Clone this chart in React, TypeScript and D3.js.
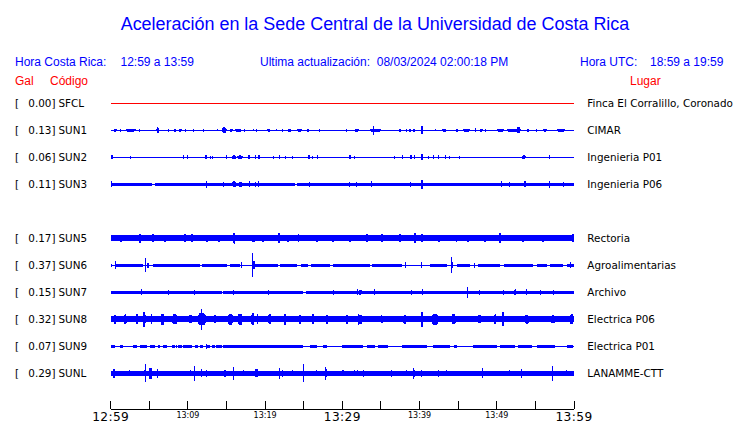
import React from "react";
import * as d3 from "d3";

// ---- data ----
const slots = ["SFCL", "SUN1", "SUN2", "SUN3", "SUN4", "SUN5", "SUN6", "SUN7", "SUN8", "SUN9", "SUNL"];
const stations = ["SFCL", "SUN1", "SUN2", "SUN3", "SUN5", "SUN6", "SUN7", "SUN8", "SUN9", "SUNL"];
const galValues = [0.0, 0.13, 0.06, 0.11, 0.17, 0.37, 0.15, 0.32, 0.07, 0.29];
const places = [
  "Finca El Corralillo, Coronado",
  "CIMAR",
  "Ingenieria P01",
  "Ingenieria P06",
  "Rectoria",
  "Agroalimentarias",
  "Archivo",
  "Electrica P06",
  "Electrica P01",
  "LANAMME-CTT",
];
const traceColors = ["#ff0000", "#0000ff", "#0000ff", "#0000ff", "#0000ff", "#0000ff", "#0000ff", "#0000ff", "#0000ff", "#0000ff"];

// minutes after 12:59
const startClock = 12 * 60 + 59;
const tickMinutes = [0, 5, 10, 15, 20, 25, 30, 35, 40, 45, 50, 55, 60];
const labelMinutes = [0, 10, 20, 30, 40, 50, 60];
const bigLabelMinutes = [0, 30, 60];

// base half-amplitude of each trace (always present)
const baseAmp = [0.5, 0.75, 0.7, 0.75, 0.75, 0.7, 0.75, 0.75, 0.7, 0.75];

// sustained noise bands: [startMin, endMin, halfAmp]
const bandsSFCL: number[][] = [];
const bandsSUN1: number[][] = [];
const bandsSUN2: number[][] = [];
const bandsSUN3 = [[0, 5.3, 1.8], [5.7, 23.9, 1.8], [24.1, 60, 1.8]];
const bandsSUN5 = [[0, 60, 3.1]];
const bandsSUN6 = [
  [0, 0.2, 1.5], [0.55, 4.2, 1.5], [5.5, 11.6, 1.5], [11.8, 15, 1.5], [15.45, 16.75, 1.5],
  [18.7, 21.7, 1.5], [21.9, 24.1, 1.5], [24.7, 25.6, 1.5], [26, 28.4, 1.5], [28.8, 33.6, 1.5],
  [33.8, 37.7, 1.5], [41.4, 43.5, 1.5], [44.8, 46.5, 1.5], [47.6, 50.4, 1.5], [50.9, 54.7, 1.5],
  [55.2, 56.5, 1.5], [56.9, 58.6, 1.5], [59.1, 60, 1.5],
];
const bandsSUN7 = [[0, 14.4, 1.8], [14.6, 24.95, 1.8], [25.3, 60, 1.8]];
const bandsSUN8 = [[0, 60, 3.0]];
const bandsSUN9 = [
  [0, 0.55, 1.5], [1.2, 1.6, 1.5], [2.9, 3.4, 1.5], [3.8, 4.7, 1.5], [5.1, 5.7, 1.5], [6.1, 6.4, 1.5],
  [6.8, 7.25, 1.5], [7.9, 8.3, 1.5], [8.75, 9.2, 1.5], [9.4, 10.5, 1.5], [10.9, 11.35, 1.5],
  [11.55, 12, 1.5], [12.4, 12.85, 1.5], [13.1, 13.5, 1.5], [13.7, 14.4, 1.5], [14.6, 24.95, 1.5],
  [25.8, 26.7, 1.5], [27.5, 28, 1.5], [29.9, 30.8, 1.5], [30.9, 32.7, 1.5], [33.2, 34.2, 1.5],
  [34.6, 35.9, 1.5], [37.7, 40.9, 1.5], [41.8, 44, 1.5], [44.4, 44.8, 1.5], [46.9, 50, 1.5],
  [50.4, 52.4, 1.5], [52.75, 54.5, 1.5], [55.2, 57.6, 1.5], [59.1, 59.9, 1.5],
];
const bandsSUNL = [[0, 60, 2.2]];

// bursts: [timeMin, halfAmp, durationMin]
const burstsSFCL: number[][] = [];
const burstsSUN1 = [
  [0.6, 1.5, 0.4], [1.3, 1.5, 0.1], [2.6, 1.8, 1.3], [3.7, 1.5, 0.1], [6.1, 3, 0.35], [7.55, 1.5, 0.1],
  [8.3, 1.8, 0.3], [9.0, 1.8, 0.4], [9.7, 1.5, 0.2], [10.7, 1.5, 0.1], [12, 1.5, 0.1], [13.8, 1, 0.1],
  [14.7, 3, 0.65], [15.6, 1.8, 0.4], [16.5, 1.8, 0.9], [17.35, 1.5, 0.1], [18.5, 1, 0.1], [18.9, 1.5, 0.1],
  [20.5, 1.8, 0.4], [21.5, 1, 0.1], [22.3, 1.5, 0.1], [23.15, 1.8, 0.5], [24.45, 1.5, 0.7], [25.55, 1.5, 0.3],
  [27.1, 1.5, 0.1], [30.6, 1.5, 0.1], [31.85, 1.8, 0.5], [34.3, 1.8, 1.5], [34.0, 4.5, 0.15], [37.45, 1.8, 0.3],
  [38.3, 1.5, 0.2], [38.8, 1.8, 0.3], [39.3, 1.5, 0.2], [40.3, 4, 0.3], [42.1, 1, 0.1], [43.2, 1.5, 0.6],
  [44.85, 1.8, 0.3], [46.05, 1.8, 0.9], [47.3, 2, 0.1], [48, 1.8, 0.35], [48.5, 1.5, 0.1], [50.45, 1.8, 0.9],
  [52.2, 1.8, 1.9], [52.8, 3, 0.3], [54.05, 1.8, 0.35], [55.2, 1.5, 0.1], [56.25, 1.8, 0.5], [58.3, 1.8, 1.0],
];
const burstsSUN2 = [
  [0.15, 2, 0.25], [2.6, 1.5, 0.1], [9.4, 2, 0.1], [9.9, 2, 0.1], [12.3, 2, 0.25], [12.95, 1.5, 0.1],
  [13.2, 1.5, 0.1], [15, 2, 0.1], [15.95, 2, 0.6], [16.75, 2, 0.7], [17.9, 2, 0.25], [18.7, 2, 0.1],
  [19.2, 2, 0.2], [21.1, 1.5, 0.1], [21.9, 2, 0.1], [22.6, 1.5, 0.1], [23.6, 1.5, 0.1], [25.7, 2, 0.2],
  [26.1, 1.5, 0.1], [26.8, 2, 0.1], [31.0, 2, 0.2], [31.6, 1.5, 0.1], [36.8, 1.5, 0.1], [37.8, 2, 0.2],
  [38.85, 2, 0.3], [39.4, 2, 0.1], [40.3, 3, 0.3], [41.1, 1.5, 0.1], [41.8, 2, 0.1], [42.4, 2, 0.1],
  [43.3, 2, 0.1], [43.9, 1.5, 0.1], [45.2, 1.5, 0.1], [53.5, 2, 0.5], [56.8, 2, 0.2],
];
const burstsSUN3 = [
  [0.1, 3, 0.1], [12.35, 3.5, 0.1], [14.6, 2.5, 0.1], [16, 3, 0.7], [16.8, 2.5, 0.6], [18, 3, 0.1],
  [18.7, 2.5, 0.1], [19.1, 3, 0.1], [25.7, 2.5, 0.1], [30.9, 2.5, 0.1], [31.8, 2.5, 0.1], [33.8, 3, 0.1],
  [38.8, 2.5, 0.1], [40.3, 4.8, 0.2], [50.6, 3, 0.1], [51.6, 2.5, 0.1], [53.65, 3, 0.4], [56.8, 3.5, 0.2],
  [58.6, 2.5, 0.1],
];
const burstsSUN5 = [
  [1.3, 3.5, 0.2], [3.8, 4.5, 0.6], [5.5, 4, 0.2], [7, 3.5, 0.2], [9.6, 4, 0.2], [10.5, 4, 0.2],
  [12.5, 3.5, 0.3], [14, 3.8, 0.4], [16, 5.7, 0.4], [18.5, 3.5, 0.3], [19.7, 3.5, 0.2], [21.8, 5, 0.3],
  [23, 3.5, 0.3], [24.3, 4, 0.2], [26.7, 3.5, 0.3], [28.8, 3.5, 0.3], [31, 3.5, 0.3], [33.2, 4, 0.3],
  [35.1, 4, 0.3], [37.5, 4, 0.3], [39.4, 5, 0.3], [40.3, 4, 0.2], [42.5, 3.5, 0.3], [44.8, 3.5, 0.2],
  [46.3, 3.5, 0.2], [48.5, 3.5, 0.3], [50.4, 5, 0.3], [53.4, 3.5, 0.3], [56, 3.5, 0.3], [59.9, 4, 0.2],
];
const burstsSUN6 = [
  [0.6, 4, 0.1], [4.55, 7, 0.1], [4.8, 2.5, 0.3], [17, 3, 0.1], [18.35, 12, 0.1], [18.5, 4, 0.3],
  [38.2, 3, 0.2], [40.3, 3, 0.1], [44.1, 8, 0.1], [44.2, 3, 0.3], [47.1, 2.5, 0.1], [59.5, 3, 0.1],
];
const burstsSUN7 = [
  [4, 3, 0.1], [7.5, 2.5, 0.1], [10.8, 2.5, 0.1], [15.9, 2.5, 0.1], [20.4, 2.5, 0.1], [28.8, 2.5, 0.1],
  [31.9, 3, 0.1], [32.3, 2.5, 0.6], [34.2, 3, 0.1], [39, 2.5, 0.1], [40.4, 3, 0.2], [46.2, 5.5, 0.1],
  [47.8, 2.5, 0.1], [50.9, 2.5, 0.1], [52.4, 3, 0.4], [53.9, 3, 0.1], [55.6, 2.5, 0.1], [57.3, 2.5, 0.1],
];
const burstsSUN8 = [
  [0.55, 4.5, 0.2], [1.9, 5, 0.5], [3.4, 5, 0.5], [4.3, 7.5, 0.2], [4.4, 5, 0.4], [5.3, 5, 0.2],
  [6.7, 5.5, 0.3], [8.3, 5, 1.0], [10.3, 4, 0.8], [11.8, 10.5, 0.15], [11.8, 6, 1.5], [13.5, 4, 0.2],
  [15.5, 5.5, 0.9], [16.75, 5.5, 0.9], [18.4, 6, 0.6], [19, 5, 0.2], [20.6, 5, 0.6], [22.6, 5.5, 0.2],
  [24.5, 4.5, 0.2], [26.2, 5, 0.4], [28, 4.5, 0.2], [30.6, 4.5, 0.2], [32.1, 5.5, 0.2], [32.3, 4.5, 1.0],
  [35.1, 4, 0.4], [38.1, 4.5, 0.6], [40.3, 7.7, 0.4], [42, 5.5, 1.2], [44.4, 5, 0.8], [47.8, 4, 0.8],
  [49.8, 5, 0.4], [50.8, 7, 0.2], [53.9, 4.5, 0.8], [57.3, 4, 0.8], [59.7, 5, 0.6],
];
const burstsSUN9 = [[12.35, 2.5, 0.1], [8.5, 1.8, 0.1]];
const burstsSUNL = [
  [0.45, 4.5, 0.2], [2.4, 3, 0.1], [4.45, 9, 0.1], [4.5, 4, 0.4], [5.15, 5.5, 0.3], [6.05, 4.5, 0.2],
  [9.2, 2.5, 0.1], [10.3, 3, 0.1], [10.8, 7.5, 0.1], [11.8, 4, 0.1], [12.35, 3.5, 0.1], [14.8, 3.5, 0.3],
  [15.9, 6.5, 0.1], [17.2, 3, 0.1], [18.9, 4, 0.3], [21.9, 5.5, 0.1], [22.3, 3.5, 0.1], [23.6, 3, 0.1],
  [25, 9, 0.1], [26.7, 3, 0.1], [27.8, 6.5, 0.1], [27.9, 4, 0.4], [30.1, 3, 0.4], [31.6, 3, 0.1],
  [31.9, 3, 0.1], [32.7, 3.5, 0.1], [36.4, 3.5, 0.1], [38.3, 3, 0.1], [39.2, 5.5, 0.1], [39.3, 3.5, 0.4],
  [40.3, 3.5, 0.1], [42.4, 3.5, 0.1], [43.5, 3, 0.1], [48.1, 5, 0.1], [49.4, 2.5, 0.1], [51.7, 3, 0.1],
  [53.2, 4.5, 0.1], [57.2, 7.5, 0.1], [59, 3, 0.1],
];

const bands = [bandsSFCL, bandsSUN1, bandsSUN2, bandsSUN3, bandsSUN5, bandsSUN6, bandsSUN7, bandsSUN8, bandsSUN9, bandsSUNL];
const bursts = [burstsSFCL, burstsSUN1, burstsSUN2, burstsSUN3, burstsSUN5, burstsSUN6, burstsSUN7, burstsSUN8, burstsSUN9, burstsSUNL];

// ---- layout ----
const W = 740;
const H = 423;
const x = d3.scaleLinear().domain([0, 60]).range([110.7, 574]);
const y = d3.scalePoint<string>().domain(slots).range([103.3, 373.3]);
const amp = d3.scaleLinear().domain([0, 1]).range([0, 1]);
const axisY = 409.3;

function clock(m: number) {
  const t = startClock + m;
  const h = Math.floor(t / 60);
  const mm = t % 60;
  return `${h}:${String(mm).padStart(2, "0")}`;
}

// spindle-shaped burst envelope around the trace's centre line
function burstPath(b: number[], cy: number, base: number) {
  const [t, a, d] = b;
  const wpx = x(d) - x(0);
  if (wpx < 2.5) return null;
  const pts: [number, number][] = [
    [x(t - d / 2), base],
    [x(t - d * 0.2), a],
    [x(t + d * 0.2), a],
    [x(t + d / 2), base],
  ];
  const area = d3
    .area<[number, number]>()
    .x((p) => p[0])
    .y0((p) => cy + amp(p[1]))
    .y1((p) => cy - amp(p[1]));
  return area(pts);
}

const sans = "'Liberation Sans', Arial, sans-serif";
const dv = "'DejaVu Sans', sans-serif";
const BLUE = "#0000ff";
const RED = "#ff0000";

export default function App() {
  return (
    <svg width={W} height={H} style={{ position: "absolute", left: 0, top: 0, background: "#fff" }}>
      <rect x={0} y={0} width={W} height={H} fill="#fff" />
      <text
        x={120.7}
        y={29.5}
        fontFamily={sans}
        fontSize={18.3}
        fill={BLUE}
        textLength={508.6}
        lengthAdjust="spacingAndGlyphs"
      >
        Aceleración en la Sede Central de la Universidad de Costa Rica
      </text>
      <g fontFamily={sans} fontSize={12} fill={BLUE}>
        <text x={15} y={65.5}>Hora Costa Rica:</text>
        <text x={120.5} y={65.5}>12:59 a 13:59</text>
        <text x={260} y={65.5} xmlSpace="preserve">Ultima actualización:  08/03/2024 02:00:18 PM</text>
        <text x={580} y={65.5}>Hora UTC:</text>
        <text x={650} y={65.5}>18:59 a 19:59</text>
      </g>
      <g fontFamily={sans} fontSize={12} fill={RED}>
        <text x={15} y={85}>Gal</text>
        <text x={50} y={85}>Código</text>
        <text x={630} y={85}>Lugar</text>
      </g>

      {stations.map((s, i) => {
        const cy = y(s)!;
        const col = traceColors[i];
        return (
          <g key={s}>
            <g fontFamily={dv} fontSize={10.4} fill="#000">
              <text x={15} y={cy + 3.8}>[</text>
              <text x={55.5} y={cy + 3.8} textAnchor="end">{galValues[i].toFixed(2) + "]"}</text>
              <text x={58.5} y={cy + 3.8}>{s}</text>
              <text x={587.3} y={cy + 3.8}>{places[i]}</text>
            </g>
            <g fill={col} shapeRendering="crispEdges">
              <rect x={x(0)} width={x(60) - x(0)} y={cy - amp(baseAmp[i])} height={2 * amp(baseAmp[i])} />
              {bands[i].map((b, j) => (
                <rect key={"b" + j} x={x(b[0])} width={x(b[1]) - x(b[0])} y={cy - amp(b[2])} height={2 * amp(b[2])} />
              ))}
              {bursts[i].map((b, j) => {
                const p = burstPath(b, cy, baseAmp[i]);
                if (p) return <path key={"s" + j} d={p} />;
                const w = Math.max(1, x(b[2]) - x(0));
                return (
                  <rect key={"s" + j} x={x(b[0]) - w / 2} width={w} y={cy - amp(b[1])} height={2 * amp(b[1])} />
                );
              })}
            </g>
          </g>
        );
      })}

      <g stroke="#000" strokeWidth={1} shapeRendering="crispEdges">
        <line x1={x(0)} x2={x(60)} y1={axisY} y2={axisY} />
        {tickMinutes.map((m) => (
          <line key={m} x1={x(m)} x2={x(m)} y1={axisY} y2={axisY - 8.7} />
        ))}
      </g>
      <g fill="#000" textAnchor="middle">
        {labelMinutes.map((m) => {
          const big = bigLabelMinutes.includes(m);
          return (
            <text
              key={m}
              x={x(m)}
              y={big ? 420.5 : 417.5}
              fontFamily={dv}
              fontSize={big ? 12.2 : 8}
              letterSpacing={big ? 0.4 : 0}
            >
              {clock(m)}
            </text>
          );
        })}
      </g>
    </svg>
  );
}
